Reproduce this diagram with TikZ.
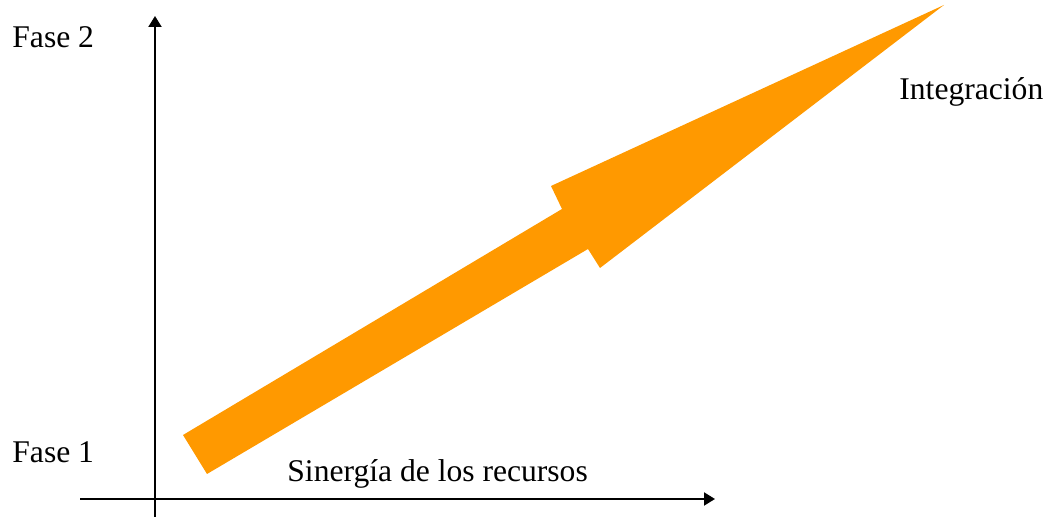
\documentclass[tikz,border=0pt]{standalone}
\usepackage{fontspec}
\setmainfont{Liberation Serif}
\usetikzlibrary{arrows.meta}
\definecolor{naranja}{RGB}{255,153,0}
\tikzset{
  eje/.style={line width=1pt,-{Triangle[length=5.5pt,width=6.5pt]}},
  rotulo/.style={inner sep=0pt,font=\fontsize{15.8}{19}\selectfont}
}

\begin{document}
\begin{tikzpicture}[x=0.5pt,y=-0.5pt]
\useasboundingbox (0,0) rectangle (1045,517);
%the axes
\coordinate (origenV) at (155,517);
\coordinate (finV) at (155,16);
\coordinate (origenH) at (80,499);
\coordinate (finH) at (715,499);
\draw[eje] (origenV) -- (finV);
\draw[eje] (origenH) -- (finH);
%the big arrow
\fill[naranja] (183,435) -- (562,209) -- (551,186) -- (944,5)
  -- (600,268) -- (588,249) -- (207,474) -- cycle;
%the labels
\node [rotulo,anchor=base west] (fase2) at (12,48) {Fase 2};
\node [rotulo,anchor=base west] (fase1) at (12,463) {Fase 1};
\node [rotulo,anchor=base west] (sinergia) at (287,482) {Sinergía de los recursos};
\node [rotulo,anchor=base west] (integracion) at (899,100) {Integración};
\end{tikzpicture}
\end{document}
